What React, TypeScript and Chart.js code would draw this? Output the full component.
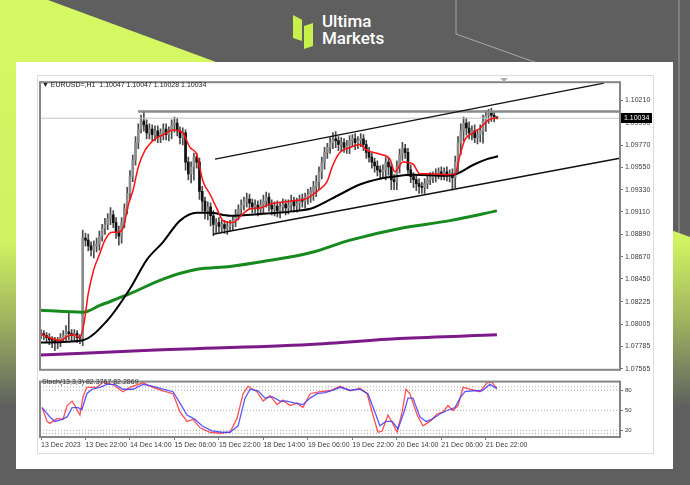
import React, { useEffect, useRef } from "react";
import { Chart, registerables } from "chart.js";
Chart.register(...registerables);

// ---------- DATA ----------
const symbolHeader = "\u25BC EURUSD=,H1  1.10047 1.10047 1.10028 1.10034";
const stochHeader = "Stoch(13,3,3) 82.3767 82.2869";

const firstOpen = 1.07901;
const closes = [
  1.07911, 1.07892, 1.07872, 1.07853, 1.07844, 1.07824, 1.07834, 1.07872, 1.07892, 1.0793,
  1.07911, 1.07892, 1.07911, 1.07872, 1.07863, 1.08852, 1.08833, 1.08776, 1.08737, 1.08776,
  1.08794, 1.08872, 1.08948, 1.08987, 1.09045, 1.09083, 1.09006, 1.0891, 1.08872, 1.09006,
  1.09141, 1.09294, 1.09458, 1.09621, 1.09794, 1.09928, 1.10005, 1.09967, 1.0989, 1.09928,
  1.09871, 1.09909, 1.09852, 1.0989, 1.09928, 1.09871, 1.09909, 1.09967, 1.09986, 1.09909,
  1.09842, 1.0989, 1.09602, 1.09486, 1.09554, 1.0965, 1.09602, 1.09313, 1.09217, 1.09121,
  1.0916, 1.09073, 1.08987, 1.09006, 1.08968, 1.08987, 1.08948, 1.08968, 1.08987, 1.09025,
  1.09083, 1.09141, 1.09179, 1.09217, 1.09237, 1.09198, 1.0916, 1.09179, 1.09141, 1.09179,
  1.09217, 1.09256, 1.09179, 1.09141, 1.09169, 1.09121, 1.0916, 1.09189, 1.0915, 1.09179,
  1.09217, 1.09169, 1.09198, 1.09237, 1.09217, 1.09256, 1.09285, 1.09313, 1.09362, 1.0941,
  1.09506, 1.09602, 1.09698, 1.09746, 1.09794, 1.09832, 1.09813, 1.09775, 1.09794, 1.09746,
  1.09765, 1.09813, 1.09832, 1.09794, 1.09813, 1.09832, 1.09775, 1.09698, 1.0965, 1.09602,
  1.09563, 1.09525, 1.09506, 1.09525, 1.09602, 1.09554, 1.09429, 1.0941, 1.09554, 1.09679,
  1.09736, 1.09698, 1.09525, 1.09458, 1.09429, 1.0939, 1.09362, 1.09352, 1.0939, 1.09429,
  1.09448, 1.09467, 1.09486, 1.09506, 1.09486, 1.09506, 1.09467, 1.09486, 1.09448, 1.09602,
  1.09794, 1.09909, 1.09986, 1.09938, 1.0989, 1.09909, 1.09842, 1.09871, 1.09909, 1.10005,
  1.10063, 1.10082, 1.10063, 1.10047, 1.10034,
];
// wick lengths in pips
const upperWicks = [
  4, 3, 3, 4, 3, 3, 4, 4, 5, 6, 19, 4, 4, 3, 3,
  8, 5, 6, 4, 5, 6, 5, 4, 6, 5, 7, 4, 5, 6, 5,
  5, 6, 6, 5, 6, 5, 6, 10, 5, 5, 4, 5, 5, 4, 5,
  5, 4, 5, 6, 5, 4, 5, 3, 5, 5, 4, 4, 4, 5, 4,
  5, 4, 5, 4, 5, 4, 4, 5, 4, 5, 5, 4, 5, 4, 6,
  5, 4, 5, 4, 5, 6, 5, 4, 5, 4, 5, 4, 5, 4, 5,
  6, 4, 5, 4, 5, 4, 5, 4, 5, 6, 5, 5, 5, 4, 5,
  6, 7, 4, 5, 4, 5, 5, 4, 5, 4, 5, 4, 4, 5, 4,
  4, 5, 4, 5, 5, 4, 4, 5, 6, 5, 6, 4, 4, 5, 4,
  4, 5, 4, 5, 4, 5, 4, 5, 4, 5, 4, 5, 4, 5, 6,
  6, 7, 6, 5, 6, 5, 6, 5, 6, 6, 5, 4, 5, 3, 0,
];
const lowerWicks = [
  4, 4, 5, 5, 7, 8, 6, 5, 4, 6, 6, 5, 5, 5, 5,
  7, 6, 5, 6, 8, 6, 6, 5, 6, 5, 6, 5, 6, 9, 7,
  5, 5, 6, 5, 5, 6, 4, 6, 6, 6, 6, 6, 6, 6, 7,
  5, 6, 8, 7, 5, 6, 7, 8, 6, 9, 13, 6, 8, 10, 8,
  9, 10, 11, 8, 6, 6, 5, 6, 5, 6, 6, 5, 6, 5, 6,
  6, 6, 6, 7, 6, 8, 6, 6, 6, 7, 6, 7, 6, 7, 6,
  6, 6, 6, 7, 6, 7, 7, 8, 9, 10, 8, 7, 7, 6, 6,
  6, 7, 6, 7, 5, 6, 8, 6, 7, 6, 6, 6, 6, 5, 6,
  6, 6, 6, 6, 10, 8, 10, 8, 8, 6, 6, 6, 6, 6, 8,
  7, 7, 6, 6, 5, 5, 5, 6, 5, 6, 6, 5, 6, 12, 10,
  10, 12, 10, 7, 6, 7, 5, 6, 7, 12, 10, 8, 6, 5, 0.6,
];

const redMaX = [0, 3, 7, 10, 12, 14, 15.5, 17, 19, 21, 23, 25.5, 27.5, 29.5, 31.3, 33, 35, 37.4, 39.6, 41.7, 44, 47.5, 51, 53.6, 56, 58.3, 60.8, 63.3, 65.5, 69, 72.7, 75.2, 78.8, 82.4, 89.6, 95.7, 99.3, 102.9, 105, 107.6, 111.2, 114.7, 117.3, 122, 125.5, 127.3, 130.2, 133.8, 136.3, 140, 146, 149, 150.7, 152.5, 155.4, 158, 160.4, 162.6, 164.4];
const redMaY = [1.07911, 1.07872, 1.07844, 1.07892, 1.07901, 1.07872, 1.08017, 1.08305, 1.08545, 1.08689, 1.08833, 1.0891, 1.0891, 1.08948, 1.09169, 1.09313, 1.09554, 1.09717, 1.09794, 1.09842, 1.09871, 1.09919, 1.0989, 1.09746, 1.09679, 1.0941, 1.09285, 1.09141, 1.09025, 1.09006, 1.09093, 1.09141, 1.0915, 1.09189, 1.09217, 1.09246, 1.09313, 1.0941, 1.09573, 1.09698, 1.09746, 1.09775, 1.09717, 1.09679, 1.09631, 1.09506, 1.09602, 1.09583, 1.09486, 1.09486, 1.09477, 1.09486, 1.09669, 1.09823, 1.0989, 1.09938, 1.10005, 1.10034, 1.10034];
const blackMaX = [0, 14.7, 23.7, 32, 38.1, 43.9, 50, 56.1, 60.8, 68, 79.9, 92.1, 97.8, 107.6, 114.7, 121.9, 126.6, 133.8, 146, 149.6, 155.4, 160.4, 164.4];
const blackMaY = [1.07824, 1.07844, 1.08036, 1.08353, 1.08641, 1.08814, 1.09025, 1.09102, 1.09102, 1.09073, 1.09093, 1.09121, 1.0915, 1.09285, 1.09381, 1.09438, 1.09458, 1.09477, 1.09467, 1.09486, 1.09573, 1.09631, 1.09659];
const greenMaX = [0, 15.1, 21.2, 32, 43.9, 56.1, 68, 79.9, 96.8, 111.2, 129.1, 147.1, 164];
const greenMaY = [1.08141, 1.08122, 1.08189, 1.08305, 1.08449, 1.08545, 1.08574, 1.08622, 1.08708, 1.08833, 1.08948, 1.09025, 1.09121];
const purpleMaX = [0, 39.2, 96.8, 129.1, 164];
const purpleMaY = [1.077, 1.07748, 1.07805, 1.07863, 1.07901];

const channelUpperX = [62.6, 202.5];
const channelUpperY = [1.09631, 1.1038];
const channelLowerX = [61.9, 208.2];
const channelLowerY = [1.08891, 1.0964];
const resistanceStart = 34.9;
const resistanceLevel = 1.10101;
const bidPrice = 1.10034;

const priceTicks = [1.1021, 1.0999, 1.0977, 1.0955, 1.0933, 1.0911, 1.0889, 1.0867, 1.0845, 1.08225, 1.08005, 1.07785, 1.07565];
const timeTickIdx = [0, 16, 32, 48, 64, 80, 96, 112, 128, 144, 160];
const timeTickLabels = ["13 Dec 2023", "13 Dec 22:00", "14 Dec 14:00", "15 Dec 06:00", "15 Dec 22:00", "18 Dec 14:00", "19 Dec 06:00", "19 Dec 22:00", "20 Dec 14:00", "21 Dec 06:00", "21 Dec 22:00"];

const stochMainX = [0.4, 2.2, 3.2, 5.8, 7.9, 9.4, 11.2, 12.2, 14, 15.1, 16.5, 20.1, 22.3, 25.9, 29.5, 32, 36.7, 40.3, 43.9, 47.5, 50, 52.5, 54.7, 57.2, 60.8, 64.4, 68, 70.5, 72.7, 74.5, 77.7, 79.9, 82.4, 84.9, 87, 89.6, 92.1, 94.2, 96.8, 100.4, 104, 107.6, 111.2, 114.7, 117.3, 119.4, 121.2, 122.7, 124.8, 126.6, 128.1, 129.9, 131.3, 132.7, 135.3, 137.4, 139.9, 142.4, 144.6, 146.4, 148.2, 150, 151.8, 154.3, 157.9, 160.4, 162.2, 164];
const stochMainV = [54, 33.3, 30.4, 37.8, 36.3, 57, 63.6, 57, 42.9, 70.3, 84.3, 84.3, 92, 88, 77.7, 84.3, 91, 84.3, 79.1, 74.7, 47.4, 33.3, 36.3, 23.7, 17.1, 15.6, 17.1, 37.8, 74.7, 85.8, 77.7, 63.6, 71.7, 58.4, 65.1, 57, 60.7, 54, 74.7, 77.7, 79.1, 85.8, 79.1, 82.8, 74.7, 42.9, 17.1, 18.5, 42.9, 29.6, 17.1, 47.4, 81.4, 74.7, 42.9, 26.7, 33.3, 44.4, 47.4, 57, 49.6, 57, 84.3, 81.4, 77.7, 91, 92, 82.4];
const stochSigX = [0.4, 3.2, 5, 7.6, 9.4, 11.2, 13.3, 14.7, 16.5, 18.3, 21.2, 23.7, 26.6, 29.5, 33.1, 36.7, 40.3, 43.9, 47.5, 50, 52.5, 55.4, 57.9, 61.5, 65.1, 68, 70.9, 73.4, 75.2, 78.1, 80.6, 83.1, 86, 88.5, 91.4, 94.2, 96.8, 99.3, 102.2, 105, 107.6, 111.2, 114.7, 117.6, 120.1, 121.9, 124.1, 126.3, 128.4, 130.6, 132, 133.8, 136.3, 138.5, 140.6, 143.5, 146, 148.9, 150.7, 152.5, 155.4, 158.6, 161.5, 164];
const stochSigV = [54, 40, 33.3, 36.3, 40, 54, 54, 51.1, 74.7, 81.4, 84.3, 88.6, 88.6, 81.4, 81.4, 88.6, 85.8, 81.4, 77.7, 60.7, 42.9, 36.3, 26.7, 19.3, 17.1, 17.1, 26.7, 68.1, 81.4, 79.1, 68.1, 70.3, 63.6, 63.6, 60.7, 58.4, 68.1, 74.7, 76.2, 79.9, 84.3, 79.9, 81.4, 74.7, 47.4, 26.7, 33.3, 33.3, 22.2, 47.4, 68.1, 68.1, 40, 33.3, 36.3, 44.4, 49.6, 54, 68.1, 77.7, 79.1, 79.1, 88.6, 82.3];
const stochLevels = [85, 80, 50, 20, 15];
const stochTicks = [80, 50, 20];

// ---------- helpers ----------
const X_MIN = -0.36;
const X_MAX = 208.27;
const PIP = 0.0001;
const FONT = "'Liberation Sans', Arial, sans-serif";

const zip = (xs: number[], ys: number[]) => xs.map((x, i) => ({ x, y: ys[i] }));

const framePlugin = {
  id: "frame",
  afterDraw(chart: any) {
    const { ctx, chartArea: a } = chart;
    ctx.save();
    ctx.strokeStyle = "#858585";
    ctx.lineWidth = 2;
    ctx.strokeRect(a.left, a.top, a.right - a.left, a.bottom - a.top);
    ctx.restore();
  },
};

const bidLabelPlugin = {
  id: "bidLabel",
  afterDraw(chart: any) {
    const { ctx, chartArea: a, scales } = chart;
    const y = Math.round(scales.y.getPixelForValue(bidPrice));
    ctx.save();
    ctx.fillStyle = "#000";
    ctx.fillRect(a.right + 1, y - 5, 31, 10);
    ctx.fillStyle = "#fff";
    ctx.font = "7px " + FONT;
    ctx.textBaseline = "middle";
    ctx.fillText(bidPrice.toFixed(5), a.right + 4, y + 0.5);
    ctx.restore();
  },
};

function priceConfig(): any {
  const opens = closes.map((c, i) => (i === 0 ? firstOpen : closes[i - 1]));
  const wicks = closes.map((c, i) => ({
    x: i,
    y: [Math.min(opens[i], c) - lowerWicks[i] * PIP, Math.max(opens[i], c) + upperWicks[i] * PIP],
  }));
  const bodies = closes.map((c, i) => ({ x: i, y: [Math.min(opens[i], c), Math.max(opens[i], c)] }));
  const bodyColors = closes.map((c, i) => (c >= opens[i] ? "#8c8c8c" : "#111111"));
  const line = (data: any[], color: string, width: number, order: number, extra: any = {}) => ({
    type: "line",
    data,
    borderColor: color,
    borderWidth: width,
    pointRadius: 0,
    order,
    cubicInterpolationMode: "monotone",
    ...extra,
  });
  return {
    type: "bar",
    data: {
      datasets: [
        { type: "bar", data: wicks, backgroundColor: "#4a4a4a", barThickness: 1, grouped: false, order: 20 },
        { type: "bar", data: bodies, backgroundColor: bodyColors, barThickness: 2, grouped: false, order: 19, minBarLength: 1 },
        line(zip([X_MIN, X_MAX], [bidPrice, bidPrice]), "#c4c4c4", 1, 15),
        line(zip([resistanceStart, X_MAX], [resistanceLevel, resistanceLevel]), "#8a8a8a", 2.5, 14),
        line(zip(purpleMaX, purpleMaY), "#7d1a8a", 3, 6),
        line(zip(greenMaX, greenMaY), "#178a1f", 3, 5),
        line(zip(blackMaX, blackMaY), "#000000", 2, 4),
        line(zip(redMaX, redMaY), "#ff1010", 1.5, 3),
        line(zip(channelUpperX, channelUpperY), "#111111", 1.5, 2),
        line(zip(channelLowerX, channelLowerY), "#111111", 1.5, 2),
      ],
    },
    options: {
      animation: false,
      responsive: false,
      maintainAspectRatio: false,
      events: [],
      layout: { padding: { left: 2, top: 2, right: 0, bottom: 3 } },
      plugins: { legend: { display: false }, tooltip: { enabled: false } },
      scales: {
        x: { type: "linear", min: X_MIN, max: X_MAX, display: false, offset: false },
        y: {
          type: "linear",
          position: "right",
          min: 1.07555,
          max: 1.10389,
          afterBuildTicks: (s: any) => {
            s.ticks = priceTicks.map((v) => ({ value: v }));
          },
          afterFit: (s: any) => {
            s.width = 34;
          },
          ticks: {
            callback: (v: any) => Number(v).toFixed(5),
            font: { size: 7, family: FONT },
            color: "#3a3a3a",
            padding: 2,
          },
          grid: { drawOnChartArea: false, tickLength: 3, color: "#777" },
          border: { color: "#858585", width: 1 },
        },
      },
    },
    plugins: [framePlugin, bidLabelPlugin],
  };
}

function stochConfig(): any {
  const datasets: any[] = stochLevels.map((lv) => ({
    type: "line",
    data: zip([X_MIN, X_MAX], [lv, lv]),
    borderColor: "#a8a8a8",
    borderWidth: 1,
    borderDash: [1, 2],
    pointRadius: 0,
    order: 10,
  }));
  datasets.push({
    type: "line",
    data: zip(stochSigX, stochSigV),
    borderColor: "rgba(60,60,255,0.85)",
    borderWidth: 1.3,
    pointRadius: 0,
    order: 2,
  });
  datasets.push({
    type: "line",
    data: zip(stochMainX, stochMainV),
    borderColor: "rgba(255,50,50,0.85)",
    borderWidth: 1.3,
    pointRadius: 0,
    order: 3,
  });
  return {
    type: "line",
    data: { datasets },
    options: {
      animation: false,
      responsive: false,
      maintainAspectRatio: false,
      events: [],
      layout: { padding: { left: 2, top: 1, right: 0, bottom: 0 } },
      plugins: { legend: { display: false }, tooltip: { enabled: false } },
      scales: {
        x: {
          type: "linear",
          min: X_MIN,
          max: X_MAX,
          offset: false,
          afterBuildTicks: (s: any) => {
            s.ticks = timeTickIdx.map((v) => ({ value: v }));
          },
          afterFit: (s: any) => {
            s.height = 17;
          },
          ticks: {
            callback: (v: any) => timeTickLabels[timeTickIdx.indexOf(Number(v))] ?? "",
            align: "start",
            maxRotation: 0,
            autoSkip: false,
            font: { size: 7, family: FONT },
            color: "#3a3a3a",
            padding: 1,
          },
          grid: { drawOnChartArea: false, tickLength: 3, color: "#777" },
          border: { color: "#858585" },
        },
        y: {
          type: "linear",
          position: "right",
          min: 10,
          max: 92.8,
          afterBuildTicks: (s: any) => {
            s.ticks = stochTicks.map((v) => ({ value: v }));
          },
          afterFit: (s: any) => {
            s.width = 34;
          },
          ticks: { font: { size: 6, family: FONT }, color: "#3a3a3a", padding: 2 },
          grid: { drawOnChartArea: false, tickLength: 3, color: "#777" },
          border: { color: "#858585" },
        },
      },
    },
    plugins: [framePlugin],
  };
}

export default function App() {
  const priceRef = useRef<HTMLCanvasElement>(null);
  const stochRef = useRef<HTMLCanvasElement>(null);

  useEffect(() => {
    const c1 = new Chart(priceRef.current as HTMLCanvasElement, priceConfig());
    const c2 = new Chart(stochRef.current as HTMLCanvasElement, stochConfig());
    return () => {
      c1.destroy();
      c2.destroy();
    };
  }, []);

  const abs = (l: number, t: number, w: number, h: number): React.CSSProperties => ({
    position: "absolute",
    left: l,
    top: t,
    width: w,
    height: h,
  });

  return (
    <div style={{ position: "fixed", left: 0, top: 0, width: 690, height: 485, overflow: "hidden", background: "#5f5f5f", fontFamily: FONT }}>
      {/* lime diagonal band */}
      <div
        style={{
          ...abs(0, 0, 690, 485),
          background: "linear-gradient(to bottom, #d6f862 0%, #cff262 50%, #9fb45f 66%, #5f5f5f 84%)",
          clipPath: "polygon(0 0, 48px 0, 690px 237px, 690px 485px, 0 485px)",
        }}
      />
      {/* thin decorative lines */}
      <svg style={{ ...abs(0, 0, 690, 485) }} width={690} height={485}>
        <polyline points="456,0 456,34 540,64" fill="none" stroke="rgba(255,255,255,0.45)" strokeWidth={1} />
        <polyline points="679,0 679,234" fill="none" stroke="rgba(255,255,255,0.4)" strokeWidth={1} />
      </svg>
      {/* logo */}
      <div style={{ ...abs(293, 15, 9, 26), background: "#c8f04c", clipPath: "polygon(0 0, 100% 18%, 100% 100%, 0 88%)" }} />
      <div style={{ ...abs(304, 23, 9, 26), background: "#c8f04c", clipPath: "polygon(0 12%, 100% 0, 100% 88%, 0 100%)" }} />
      <div style={{ position: "absolute", left: 322, top: 13, color: "#fff", fontFamily: "Roboto, 'Liberation Sans', sans-serif", fontWeight: 500, fontSize: 17, lineHeight: "17px" }}>
        <div>Ultima</div>
        <div>Markets</div>
      </div>
      {/* white card */}
      <div style={{ ...abs(16, 62, 657, 407), background: "#ffffff" }} />
      {/* MT4 window */}
      <div style={{ ...abs(37, 75, 617, 379), border: "1px solid #dcdcdc", boxSizing: "border-box" }} />
      <canvas ref={priceRef} width={616} height={300} style={{ ...abs(38, 76, 616, 300) }} />
      <canvas ref={stochRef} width={616} height={78} style={{ ...abs(38, 376, 616, 78) }} />
      <div style={{ position: "absolute", left: 42, top: 81, fontSize: 7, lineHeight: "8px", color: "#222", whiteSpace: "pre" }}>{symbolHeader}</div>
      <div style={{ position: "absolute", left: 42, top: 378, fontSize: 7, lineHeight: "8px", color: "#333", whiteSpace: "pre" }}>{stochHeader}</div>
      <div style={{ position: "absolute", left: 500, top: 78, width: 0, height: 0, borderLeft: "4px solid transparent", borderRight: "4px solid transparent", borderTop: "4px solid #b0b0b0" }} />
    </div>
  );
}
